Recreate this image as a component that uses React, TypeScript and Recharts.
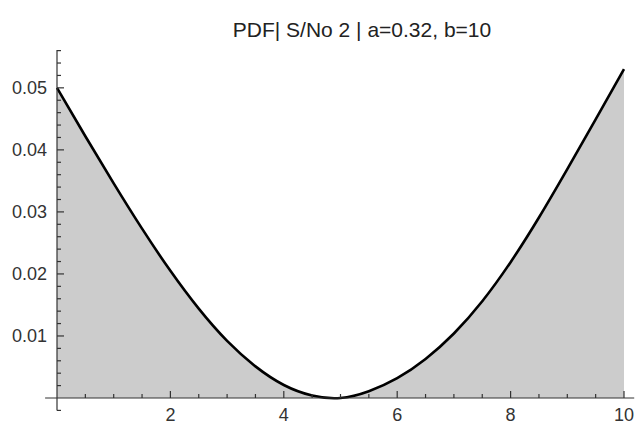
import { AreaChart, Area, XAxis, YAxis, ReferenceLine } from 'recharts'

const xValues = [0, 0.5, 1, 1.5, 2, 2.5, 3, 3.5, 4, 4.5, 5, 5.5, 6, 6.5, 7, 7.5, 8, 8.5, 9, 9.5, 10]
const pdfValues = [
  0.05, 0.0422, 0.0346, 0.0273, 0.0205, 0.0144, 0.0092, 0.0051, 0.0021, 0.0004, 0.0,
  0.0011, 0.0032, 0.0063, 0.0104, 0.0156, 0.0219, 0.0291, 0.0369, 0.0449, 0.053,
]

const xTicks = [0.5, 1, 1.5, 2, 2.5, 3, 3.5, 4, 4.5, 5, 5.5, 6, 6.5, 7, 7.5, 8, 8.5, 9, 9.5, 10]
const xMajor = [2, 4, 6, 8, 10]
const yTicks = [
  -0.002, 0.002, 0.004, 0.006, 0.008, 0.01, 0.012, 0.014, 0.016, 0.018, 0.02, 0.022, 0.024, 0.026,
  0.028, 0.03, 0.032, 0.034, 0.036, 0.038, 0.04, 0.042, 0.044, 0.046, 0.048, 0.05, 0.052, 0.054,
  0.056,
]
const yMajor = [0.01, 0.02, 0.03, 0.04, 0.05]

const title = 'PDF| S/No 2 | a=0.32, b=10'

const data = xValues.map((x, i) => ({ x, y: pdfValues[i] }))

const isMajor = (list: number[], v: number) => list.some((m) => Math.abs(m - v) < 1e-9)

const font = '"Liberation Sans", Arial, sans-serif'
const axisColor = '#333'

const XTick = (props: any) => {
  const { x, y, payload } = props
  const major = isMajor(xMajor, payload.value)
  return (
    <g>
      <line x1={x} x2={x} y1={y} y2={y - (major ? 7 : 4)} stroke={axisColor} strokeWidth={1.2} />
      {major && (
        <text x={x} y={y + 23} textAnchor="middle" fontSize={18} fontFamily={font} fill="#333">
          {payload.value}
        </text>
      )}
    </g>
  )
}

const YTick = (props: any) => {
  const { x, y, payload } = props
  const major = isMajor(yMajor, payload.value)
  return (
    <g>
      <line x1={x} x2={x + (major ? 7 : 4)} y1={y} y2={y} stroke={axisColor} strokeWidth={1.2} />
      {major && (
        <text x={x - 10} y={y} textAnchor="end" dominantBaseline="central" fontSize={18} fontFamily={font} fill="#333">
          {payload.value}
        </text>
      )}
    </g>
  )
}

export default function App() {
  return (
    <div style={{ position: 'absolute', left: 0, top: 0, width: 639, height: 423, background: '#fff' }}>
      <div
        style={{
          position: 'absolute',
          left: 62,
          width: 600,
          top: 19,
          textAlign: 'center',
          fontFamily: font,
          fontSize: 21,
          lineHeight: '21px',
          color: '#222',
        }}
      >
        {title}
      </div>
      <AreaChart width={639} height={423} data={data} margin={{ top: 50, right: 15, bottom: 0, left: 0 }}>
        <Area
          type="natural"
          dataKey="y"
          stroke="#000"
          strokeWidth={2.6}
          fill="#cccccc"
          fillOpacity={1}
          isAnimationActive={false}
        />
        <ReferenceLine
          segment={[{ x: -0.21, y: 0 }, { x: 10.18, y: 0 }]}
          stroke={axisColor}
          strokeWidth={1.2}
          ifOverflow="visible"
        />
        <ReferenceLine
          segment={[{ x: 0, y: -0.002 }, { x: 0, y: 0.0561 }]}
          stroke={axisColor}
          strokeWidth={1.2}
          ifOverflow="visible"
        />
        <XAxis
          type="number"
          dataKey="x"
          domain={[0, 10]}
          ticks={xTicks}
          interval={0}
          height={25}
          tickSize={0}
          tickMargin={0}
          axisLine={false}
          tickLine={false}
          tick={<XTick />}
        />
        <YAxis
          type="number"
          domain={[0, 0.0561]}
          ticks={yTicks}
          interval={0}
          width={57}
          tickSize={0}
          tickMargin={0}
          axisLine={false}
          tickLine={false}
          tick={<YTick />}
        />
      </AreaChart>
    </div>
  )
}
